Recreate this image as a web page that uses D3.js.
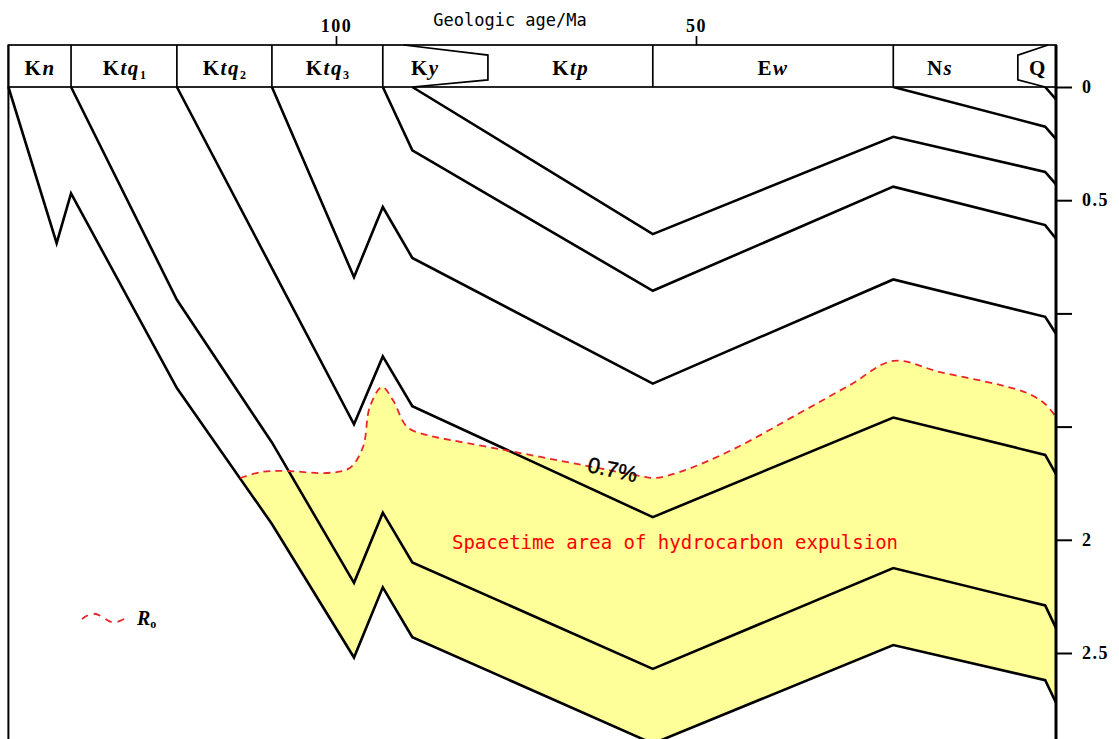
<!DOCTYPE html>
<html>
<head>
<meta charset="utf-8">
<script src="https://cdn.jsdelivr.net/npm/d3@7/dist/d3.min.js"></script>
<style>
  html, body { margin: 0; padding: 0; background: #fff; }
  svg { display: block; }
</style>
</head>
<body>
<svg id="chart" width="1119" height="739"></svg>
<script>
// ---- Stratigraphic units (header band) ----
const unitRoman  = ["K", "K", "K", "K", "K", "K", "E", "N", "Q"];
const unitItalic = ["n", "tq", "tq", "tq", "y", "tp", "w", "s", ""];
const unitSub    = ["", "1", "2", "3", "", "", "", "", ""];
const unitLabelAge = [141.1, 129.3, 115.4, 101.1, 87.6, 67.4, 39.3, 16.1, 2.5];
// boundaries (Ma) drawn as vertical dividers in the header
const unitBoundaryAge = [145.5, 136.8, 122.1, 108.9, 93.5, 56.0, 22.6, 0];
// pinch-out wedges of Ky and Q (age, relative height within the band 0..1)
const kyWedgeAge = [90.6, 78.9, 78.9, 89.4];
const kyWedgeLevel = [0, 0.24, 0.83, 1];
const qWedgeAge = [1.1, 5.3, 5.3, 1.5];
const qWedgeLevel = [0, 0.24, 0.83, 1];

// ---- Axes ----
const ageTicks = [100, 50];
const depthTicks = [0, 0.5, 1, 1.5, 2, 2.5];
const depthTickLabels = ["0", "0.5", "", "", "2", "2.5"];

// ---- Burial history: base of each unit (age in Ma, depth in km) ----
const horizonNames = ["Kn", "Ktq1", "Ktq2", "Ktq3", "Ky", "Ktp", "Ns", "Q"];
const knAge   = [145.5, 138.8, 136.8, 122.1, 108.9, 97.5, 93.5, 89.4, 56.0, 22.6, 1.5, 0];
const knDepth = [0, 0.69, 0.47, 1.33, 1.93, 2.52, 2.21, 2.43, 2.90, 2.465, 2.62, 2.72];
const ktq1Age   = [136.8, 122.1, 108.9, 97.5, 93.5, 89.4, 56.0, 22.6, 1.5, 0];
const ktq1Depth = [0, 0.94, 1.57, 2.19, 1.88, 2.10, 2.57, 2.125, 2.29, 2.39];
const ktq2Age   = [122.1, 108.9, 97.5, 93.5, 89.4, 56.0, 22.6, 1.5, 0];
const ktq2Depth = [0, 0.80, 1.49, 1.19, 1.41, 1.90, 1.46, 1.625, 1.71];
const ktq3Age   = [108.9, 97.5, 93.5, 89.4, 56.0, 22.6, 1.5, 0];
const ktq3Depth = [0, 0.84, 0.53, 0.755, 1.31, 0.85, 1.015, 1.09];
const kyAge   = [93.5, 89.4, 56.0, 22.6, 1.5, 0];
const kyDepth = [0, 0.28, 0.90, 0.44, 0.61, 0.67];
const ktpAge   = [89.4, 56.0, 22.6, 1.5, 0];
const ktpDepth = [0, 0.65, 0.22, 0.375, 0.43];
const nsAge   = [22.6, 1.5, 0];
const nsDepth = [0, 0.175, 0.23];
const qAge   = [1.5, 0];
const qDepth = [0, 0.055];

// ---- Ro = 0.7% isoline ----
const roAge   = [113.3, 110.3, 106.8, 101.25, 98.1, 96.25, 95.3, 93.6, 92.1, 90.1, 87.4, 85.6,
                 77.2, 65.7, 57.8, 55.7, 52.2, 45.0, 35.6, 28.6, 22.6, 16.1, 7.8, 4.0, 1.5, 0];
const roDepth = [1.727, 1.70, 1.696, 1.705, 1.683, 1.59, 1.413, 1.325, 1.383, 1.502, 1.537, 1.55,
                 1.60, 1.67, 1.718, 1.727, 1.70, 1.603, 1.44, 1.316, 1.21, 1.259, 1.316, 1.352, 1.40, 1.458];

const horizonAges = [knAge, ktq1Age, ktq2Age, ktq3Age, kyAge, ktpAge, nsAge, qAge];
const horizonDepths = [knDepth, ktq1Depth, ktq2Depth, ktq3Depth, kyDepth, ktpDepth, nsDepth, qDepth];

// ---- Layout ----
const W = 1119, H = 739;
const bandTop = 45, bandBottom = 87;

const x = d3.scaleLinear().domain([100, 50]).range([336, 696]);
const y = d3.scaleLinear().domain([0, 2.5]).range([bandBottom, 653]);

const svg = d3.select("#chart");

const zip = (a, d) => a.map((v, i) => [v, d[i]]);
const line = d3.line().x(p => x(p[0])).y(p => y(p[1]));

// ---- Expulsion area (between Ro isoline and base of Kn) ----
const roPts = zip(roAge, roDepth);
const roLine = d3.line().x(p => x(p[0])).y(p => y(p[1])).curve(d3.curveCatmullRom.alpha(0.5));
const knPts = zip(knAge, knDepth);
const knTail = knPts.filter(p => p[0] < roAge[0]).reverse();
const areaPath = roLine(roPts) + knTail.map(p => "L" + x(p[0]) + "," + y(p[1])).join("") + "Z";
svg.append("path")
  .attr("d", areaPath)
  .attr("fill", "#ffff99")
  .attr("stroke", "none");

// ---- Burial curves ----
svg.append("g")
  .selectAll("path")
  .data(horizonNames.map((n, i) => zip(horizonAges[i], horizonDepths[i])))
  .join("path")
  .attr("d", line)
  .attr("fill", "none")
  .attr("stroke", "#000")
  .attr("stroke-width", 2.6)
  .attr("stroke-linejoin", "miter");

// ---- Ro isoline ----
svg.append("path")
  .attr("d", roLine(roPts))
  .attr("fill", "none")
  .attr("stroke", "#e8262a")
  .attr("stroke-width", 1.8)
  .attr("stroke-dasharray", "7,5");

// ---- Header band ----
const hdr = svg.append("g").attr("stroke", "#000").attr("fill", "none");
hdr.append("rect")
  .attr("x", x(unitBoundaryAge[0])).attr("y", bandTop)
  .attr("width", x(0) - x(unitBoundaryAge[0])).attr("height", bandBottom - bandTop)
  .attr("fill", "#fff")
  .attr("stroke-width", 1.7);
hdr.selectAll("line.div")
  .data(unitBoundaryAge.slice(1, -1))
  .join("line")
  .attr("x1", d => x(d)).attr("x2", d => x(d))
  .attr("y1", bandTop).attr("y2", bandBottom)
  .attr("stroke-width", 1.7);
const bandY = t => bandTop + t * (bandBottom - bandTop);
hdr.append("path")
  .attr("d", d3.line()(zip(kyWedgeAge, kyWedgeLevel).map(p => [x(p[0]), bandY(p[1])])))
  .attr("stroke-width", 1.7);
hdr.append("path")
  .attr("d", d3.line()(zip(qWedgeAge, qWedgeLevel).map(p => [x(p[0]), bandY(p[1])])))
  .attr("stroke-width", 1.7);

// unit names
const names = svg.append("g")
  .attr("font-family", "'Liberation Serif', 'Times New Roman', serif")
  .attr("font-weight", "bold")
  .attr("font-size", 21)
  .attr("letter-spacing", 1.5)
  .attr("fill", "#000");
unitRoman.forEach((r, i) => {
  const t = names.append("text")
    .attr("x", x(unitLabelAge[i]))
    .attr("y", 75)
    .attr("text-anchor", "middle");
  t.append("tspan").text(r);
  if (unitItalic[i]) t.append("tspan").attr("font-style", "italic").text(unitItalic[i]);
  if (unitSub[i]) t.append("tspan").attr("font-size", 12).attr("dy", 4).text(unitSub[i]);
});

// ---- Top age axis ----
const topAxis = svg.append("g")
  .attr("transform", `translate(0,${bandTop})`)
  .call(d3.axisTop(x).tickValues(ageTicks).tickSize(9).tickFormat(d3.format("d")));
topAxis.select(".domain").remove();
topAxis.selectAll(".tick line").attr("stroke", "#000").attr("stroke-width", 1.7);
topAxis.selectAll(".tick text")
  .attr("font-family", "'Liberation Serif', serif")
  .attr("font-weight", "bold")
  .attr("font-size", 18)
  .attr("letter-spacing", 1.5)
  .attr("fill", "#000")
  .attr("dy", "-0.05em");

svg.append("text")
  .attr("x", 510).attr("y", 26)
  .attr("text-anchor", "middle")
  .attr("font-family", "'DejaVu Sans Mono', monospace")
  .attr("font-size", 17)
  .attr("fill", "#000")
  .text("Geologic age/Ma");

// ---- Right depth axis ----
const axisX = x(0);
const rightAxis = svg.append("g")
  .attr("transform", `translate(${axisX},0)`)
  .call(d3.axisRight(y).tickValues(depthTicks).tickSize(16).tickPadding(10)
        .tickFormat((d, i) => depthTickLabels[i]));
rightAxis.select(".domain").remove();
rightAxis.selectAll(".tick line").attr("stroke", "#000").attr("stroke-width", 2);
rightAxis.selectAll(".tick text")
  .attr("font-family", "'Liberation Serif', serif")
  .attr("font-weight", "bold")
  .attr("font-size", 18)
  .attr("letter-spacing", 1.5)
  .attr("fill", "#000");
svg.append("line")
  .attr("x1", axisX).attr("x2", axisX)
  .attr("y1", bandTop).attr("y2", H)
  .attr("stroke", "#000").attr("stroke-width", 3);

// left border
svg.append("line")
  .attr("x1", x(unitBoundaryAge[0])).attr("x2", x(unitBoundaryAge[0]))
  .attr("y1", bandTop).attr("y2", H)
  .attr("stroke", "#000").attr("stroke-width", 2);

// ---- Annotations ----
svg.append("text")
  .attr("transform", "translate(611,477) rotate(12)")
  .attr("text-anchor", "middle")
  .attr("font-family", "'Liberation Sans', Arial, sans-serif")
  .attr("font-size", 22)
  .attr("fill", "#000")
  .attr("stroke", "#000")
  .attr("stroke-width", 0.4)
  .text("0.7%");

svg.append("text")
  .attr("x", 675).attr("y", 549)
  .attr("text-anchor", "middle")
  .attr("font-family", "'DejaVu Sans Mono', monospace")
  .attr("font-size", 19)
  .attr("fill", "#ff0000")
  .text("Spacetime area of hydrocarbon expulsion");

// ---- Legend ----
const legend = svg.append("g").attr("transform", "translate(82,618)");
legend.append("path")
  .attr("d", d3.line().curve(d3.curveBasis)([[0, 1], [10, -6], [20, -2], [30, 6], [38, 3], [46, -1]]))
  .attr("fill", "none")
  .attr("stroke", "#e8262a")
  .attr("stroke-width", 1.8)
  .attr("stroke-dasharray", "7,6");
const lt = legend.append("text")
  .attr("x", 55).attr("y", 7)
  .attr("font-family", "'Liberation Serif', serif")
  .attr("font-weight", "bold")
  .attr("font-size", 20)
  .attr("fill", "#000");
lt.append("tspan").attr("font-style", "italic").text("R");
lt.append("tspan").attr("font-size", 12).attr("dy", 3).text("o");
</script>
</body>
</html>
